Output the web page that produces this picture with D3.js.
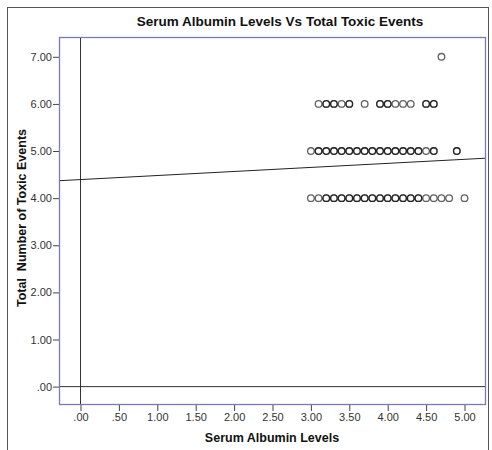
<!DOCTYPE html>
<html>
<head>
<meta charset="utf-8">
<script src="https://cdn.jsdelivr.net/npm/d3@7"></script>
<style>
  body { margin: 0; background: #fff; }
  text { font-family: Arial, "Liberation Sans", sans-serif; }
</style>
</head>
<body>
<div id="chart"></div>
<script>
// chart data: albumin level of each patient, grouped by number of toxic events
let toxicLevels = [4, 5, 6, 7];
let albumin4 = [3.0, 3.1, 3.2, 3.2, 3.3, 3.3, 3.4, 3.4, 3.5, 3.5, 3.6, 3.6, 3.7, 3.7, 3.8, 3.8, 3.9, 3.9, 4.0, 4.0, 4.1, 4.1, 4.2, 4.2, 4.3, 4.3, 4.4, 4.4, 4.5, 4.6, 4.7, 4.8, 5.0];
let albumin5 = [3.0, 3.1, 3.1, 3.2, 3.2, 3.3, 3.3, 3.4, 3.4, 3.5, 3.5, 3.6, 3.6, 3.7, 3.7, 3.8, 3.8, 3.9, 3.9, 4.0, 4.0, 4.1, 4.1, 4.2, 4.2, 4.3, 4.3, 4.4, 4.4, 4.5, 4.6, 4.6, 4.9, 4.9];
let albumin6 = [3.1, 3.2, 3.2, 3.3, 3.3, 3.4, 3.5, 3.5, 3.7, 3.9, 3.9, 4.0, 4.0, 4.1, 4.2, 4.3, 4.5, 4.5, 4.6, 4.6];
let albumin7 = [4.7];
let fitIntercept = 4.394; // linear fit line
let fitSlope = 0.086;
let xTicks = [0, 0.5, 1, 1.5, 2, 2.5, 3, 3.5, 4, 4.5, 5];
let yTicks = [0, 1, 2, 3, 4, 5, 6, 7];

let width = 492;
let height = 450;
let plot = {left: 59, top: 37, right: 486, bottom: 405};

let svg = d3.select("#chart")
    .append("svg")
    .attr("width", width)
    .attr("height", height);

// outer frame
svg.append("rect")
    .attr("x", 7.5).attr("y", 7.5)
    .attr("width", 481).attr("height", 470)
    .attr("fill", "none")
    .attr("stroke", "#555")
    .attr("stroke-width", 1);

let x = d3.scaleLinear().domain([-0.28, 5.28]).range([plot.left, plot.right]);
let y = d3.scaleLinear().domain([-0.39, 7.42]).range([plot.bottom, plot.top]);

// SPSS style labels: .00, .50, 1.00
let fmt = function (v) {
    let s = d3.format(".2f")(v);
    return s.startsWith("0.") ? s.slice(1) : s;
};

// axes
let xAxis = svg.append("g")
    .attr("transform", "translate(0," + plot.bottom + ")")
    .call(d3.axisBottom(x).tickValues(xTicks).tickFormat(fmt).tickSize(6).tickPadding(2));
let yAxis = svg.append("g")
    .attr("transform", "translate(" + plot.left + ",0)")
    .call(d3.axisLeft(y).tickValues(yTicks).tickFormat(fmt).tickSize(6).tickPadding(1));

[xAxis, yAxis].forEach(function (a) {
    a.select(".domain").remove();
    a.selectAll("line").attr("stroke", "#444");
    a.selectAll("text")
        .attr("fill", "#333")
        .style("font-size", "11px")
        .style("font-family", "Arial, 'Liberation Sans', sans-serif");
});

// plot area border
svg.append("rect")
    .attr("x", plot.left + 0.5).attr("y", plot.top + 0.5)
    .attr("width", plot.right - plot.left - 1).attr("height", plot.bottom - plot.top - 1)
    .attr("fill", "none")
    .attr("stroke", "#7a7ab8")
    .attr("stroke-width", 1.3);

svg.append("clipPath").attr("id", "clip")
    .append("rect")
    .attr("x", plot.left + 1).attr("y", plot.top + 1)
    .attr("width", plot.right - plot.left - 2).attr("height", plot.bottom - plot.top - 2);

let g = svg.append("g").attr("clip-path", "url(#clip)");

// reference lines at zero
g.append("line")
    .attr("x1", x(0)).attr("x2", x(0))
    .attr("y1", plot.top).attr("y2", plot.bottom)
    .attr("stroke", "#333").attr("stroke-width", 1);
g.append("line")
    .attr("x1", plot.left).attr("x2", plot.right)
    .attr("y1", y(0)).attr("y2", y(0))
    .attr("stroke", "#333").attr("stroke-width", 1);

// fit line
let x0 = x.domain()[0], x1 = x.domain()[1];
g.append("line")
    .attr("x1", x(x0)).attr("y1", y(fitIntercept + fitSlope * x0))
    .attr("x2", x(x1)).attr("y2", y(fitIntercept + fitSlope * x1))
    .attr("stroke", "#222").attr("stroke-width", 1);

// points
let groups = [albumin4, albumin5, albumin6, albumin7];
let points = [];
groups.forEach(function (vals, i) {
    vals.forEach(function (v) { points.push({alb: v, tox: toxicLevels[i]}); });
});

g.selectAll("circle.pt")
    .data(points)
    .join("circle")
    .attr("class", "pt")
    .attr("cx", d => x(d.alb))
    .attr("cy", d => y(d.tox))
    .attr("r", 3.3)
    .attr("fill", "none")
    .attr("stroke", "#000")
    .attr("stroke-opacity", 0.62)
    .attr("stroke-width", 1.3);

// titles
svg.append("text")
    .attr("x", 280).attr("y", 26)
    .attr("text-anchor", "middle")
    .style("font-size", "13.5px")
    .style("font-weight", "bold")
    .attr("fill", "#111")
    .text("Serum Albumin Levels Vs Total Toxic Events");

svg.append("text")
    .attr("x", 272).attr("y", 442)
    .attr("text-anchor", "middle")
    .style("font-size", "12.5px")
    .style("font-weight", "bold")
    .attr("fill", "#111")
    .text("Serum Albumin Levels");

svg.append("text")
    .attr("transform", "translate(26,218) rotate(-90)")
    .attr("text-anchor", "middle")
    .attr("xml:space", "preserve")
    .style("white-space", "pre")
    .style("font-size", "12.5px")
    .style("font-weight", "bold")
    .attr("fill", "#111")
    .text("Total  Number of Toxic Events");
</script>
</body>
</html>
